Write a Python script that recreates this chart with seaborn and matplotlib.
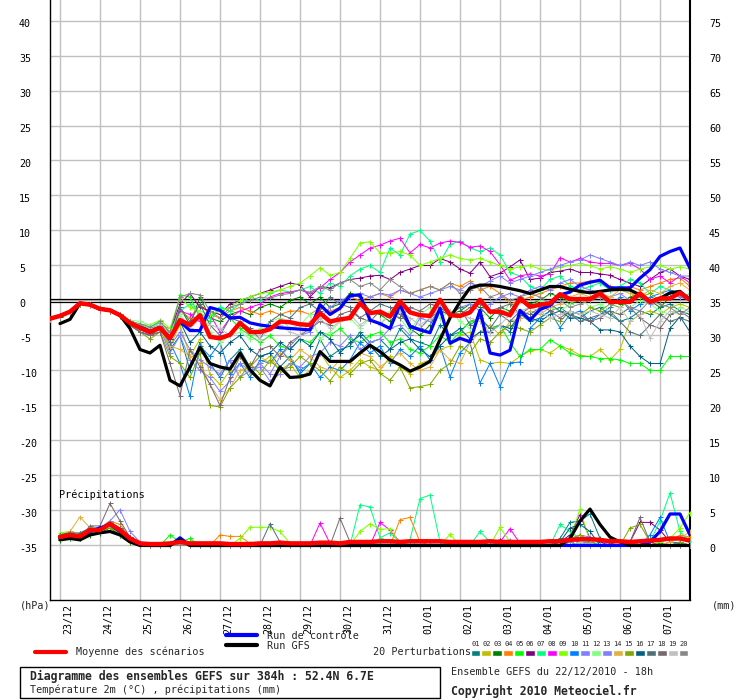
import numpy as np
import pandas as pd
import matplotlib
matplotlib.use("Agg")
import matplotlib.pyplot as plt
import seaborn as sns
from matplotlib.lines import Line2D
from matplotlib.patches import Rectangle
from matplotlib.transforms import blended_transform_factory, ScaledTranslation

# ---------------- data ----------------
hours_t = list(range(0, 385, 6))      # temperature steps (0..384h)
hours_p = list(range(6, 385, 6))      # precipitation steps (6..384h)
hours_gfs = list(range(6, 385, 6))    # GFS run starts at +6h
date_ticks_h = list(range(6, 367, 24))
date_labels = ["23/12", "24/12", "25/12", "26/12", "27/12", "28/12", "29/12", "30/12",
               "31/12", "01/01", "02/01", "03/01", "04/01", "05/01", "06/01", "07/01"]
members = ["%02d" % k for k in range(1, 21)]
pert_colors = ["#008080", "#c0c000", "#008000", "#ff8000", "#00ff00", "#800080", "#00ff80",
               "#ff00ff", "#80ff00", "#0080ff", "#8080ff", "#80ff80", "#8080ff", "#e0b040",
               "#80a800", "#006080", "#507078", "#786870", "#c0c0c0", "#888888"]

t_mean = [-2.6, -2.2, -1.6, -0.4, -0.6, -1.2, -1.4, -2.1,
          -3.2, -3.9, -4.5, -3.9, -5.4, -2.8, -3.5, -2.1,
          -5.2, -5.4, -4.9, -3.2, -4.5, -4.5, -4.1, -3.0,
          -3.1, -3.4, -3.5, -1.8, -3.0, -2.7, -2.5, -0.4,
          -1.8, -1.6, -2.3, -0.1, -1.7, -2.1, -2.2, 0.1,
          -2.1, -2.2, -1.7, 0.1, -1.6, -1.6, -2.1, 0.3,
          -0.9, -0.6, -0.4, 0.9, 0.2, 0.2, 0.2, 1.0,
          -0.2, -0.2, -0.2, 1.0, -0.2, 0.3, 0.3, 1.1,
          0.1]
t_control = [-2.6, -2.2, -1.6, -0.4, -0.6, -1.2, -1.4, -2.1,
             -3.2, -3.9, -4.5, -3.9, -5.4, -3.0, -4.3, -4.3,
             -1.0, -1.4, -2.5, -2.4, -3.2, -3.5, -3.7, -3.9,
             -4.0, -4.1, -4.2, -0.6, -2.0, -1.1, 0.7, 0.8,
             -2.8, -3.3, -4.0, -0.6, -3.7, -4.2, -4.6, -1.1,
             -6.1, -5.4, -5.9, -1.4, -7.5, -7.8, -7.1, -1.4,
             -2.8, -1.3, -0.7, 0.8, 1.2, 2.2, 2.6, 2.9,
             1.8, 1.8, 1.8, 3.2, 4.4, 6.3, 7.0, 7.5,
             4.6]
t_gfs = [-3.3, -2.7, -0.4, -0.6, -1.2, -1.4, -2.1, -4.0,
         -7.0, -7.5, -6.4, -11.4, -12.2, -9.5, -6.7, -9.0,
         -9.5, -9.8, -7.5, -9.9, -11.4, -12.2, -9.5, -11.0,
         -10.9, -10.5, -7.3, -8.7, -8.7, -8.7, -7.5, -6.4,
         -7.3, -8.5, -9.2, -10.1, -9.5, -8.7, -5.6, -2.5,
         -0.2, 1.8, 2.2, 2.2, 2.0, 1.7, 1.4, 1.0,
         1.5, 2.0, 2.0, 1.6, 1.3, 1.1, 1.3, 1.5,
         1.6, 1.5, 0.8, -0.2, 0.3, 1.1, 1.3, 0.1]

t_p01 = [-2.5, -2.1, -1.5, -0.3, -0.5, -1.1, -1.4, -2.0,
         -3.0, -3.6, -4.0, -3.5, -7.0, -5.0, -10.0, -6.0,
         -9.0, -11.0, -8.5, -7.0, -9.5, -8.0, -7.5, -9.5,
         -8.0, -10.5, -9.0, -5.5, -8.0, -7.0, -6.5, -4.5,
         -6.0, -5.5, -7.0, -4.0, -5.5, -6.0, -6.5, -3.5,
         -5.0, -4.5, -3.0, -2.5, -4.0, -3.5, -4.5, -2.0,
         -3.0, -2.5, -1.5, -1.0, -2.0, -2.5, -1.5, -1.0,
         -2.0, -3.0, -2.5, -1.5, -2.0, -1.0, -0.5, -1.5,
         -2.0]
t_p02 = [-2.6, -2.2, -1.6, -0.5, -0.6, -1.2, -1.5, -2.1,
         -3.2, -4.0, -4.8, -4.5, -6.5, -3.5, -8.0, -5.5,
         -10.5, -12.0, -10.0, -8.0, -10.5, -9.0, -8.0, -10.0,
         -9.0, -11.0, -10.0, -7.5, -9.5, -11.0, -10.0, -8.5,
         -9.5, -10.0, -8.0, -9.5, -10.5, -9.0, -8.5, -7.0,
         -6.5, -5.0, -4.5, -8.5, -9.0, -8.8, -9.0, -8.0,
         -7.2, -7.0, -7.5, -6.5, -7.0, -7.8, -8.0, -7.0,
         -8.5, -7.0, -3.0, -2.0, -1.5, -2.0, -1.0, -0.5,
         -1.0]
t_p03 = [-2.6, -2.3, -1.7, -0.5, -0.7, -1.3, -1.5, -2.2,
         -3.5, -4.5, -5.0, -4.0, -5.5, -1.0, -3.5, 0.5,
         -2.5, -3.0, -2.0, -1.5, -2.0, -1.0, -0.5, -1.0,
         0.0, 0.5, -0.5, 0.5, -1.0, -0.5, 1.0, 0.5,
         -1.5, -2.0, -3.0, -1.5, -4.0, -5.0, -3.5, -1.0,
         -2.0, -1.5, -0.5, -1.0, -2.5, -1.0, -1.5, 0.5,
         -0.5, 0.0, 1.0, 0.5, -0.5, 0.0, 0.5, 1.0,
         0.0, -0.5, 0.5, 1.0, 0.0, -1.0, 0.5, 1.0,
         0.0]
t_p04 = [-2.5, -2.1, -1.5, -0.4, -0.6, -1.1, -1.4, -2.0,
         -3.0, -3.8, -4.2, -3.5, -4.0, -1.5, -2.5, -0.5,
         -2.0, -2.5, -1.5, -1.0, -1.5, -2.0, -1.5, -2.0,
         -1.5, -1.5, -2.0, -1.0, -1.5, -1.0, 0.5, 0.0,
         0.5, 1.0, 0.5, 1.5, 1.0, 1.5, 2.0, 1.5,
         2.5, 2.0, 2.8, 1.5, 2.0, 1.0, -0.5, 0.0,
         0.5, 1.0, 1.5, 2.0, 2.5, 2.5, 2.8, 2.6,
         2.0, 1.5, 2.0, 1.5, 2.0, 2.5, 3.0, 3.2,
         2.0]
t_p05 = [-2.6, -2.2, -1.6, -0.4, -0.6, -1.2, -1.4, -2.1,
         -3.3, -3.6, -4.0, -3.5, -5.0, 0.8, 0.5, -2.5,
         -3.0, -1.0, -2.5, -4.0, -5.0, -6.0, -5.0, -6.5,
         -7.0, -5.5, -6.0, -4.5, -5.0, -4.0, -5.5, -6.0,
         -5.0, -4.5, -6.0, -5.5, -7.0, -7.5, -6.5, -5.0,
         -6.0, -4.5, -3.0, -2.5, -4.0, -3.5, -6.0, -8.0,
         -7.0, -7.0, -5.6, -6.5, -7.5, -8.0, -8.0, -8.3,
         -8.3, -8.5, -9.0, -9.0, -10.0, -10.0, -8.0, -8.0,
         -8.0]
t_p06 = [-2.5, -2.1, -1.5, -0.3, -0.5, -1.1, -1.3, -2.0,
         -3.0, -3.5, -4.2, -3.6, -4.5, -0.5, 1.0, -1.0,
         -1.5, -2.0, -0.5, 0.0, 0.5, 1.0, 1.5, 2.0,
         2.5, 2.2, 0.5, 2.0, 1.8, 2.5, 3.0, 3.2,
         3.5, 3.6, 3.0, 4.0, 4.5, 5.0, 5.0, 6.0,
         5.5, 4.5, 3.9, 5.5, 3.4, 3.9, 4.8, 5.8,
         3.0, 3.2, 4.0, 4.2, 4.5, 4.0, 4.0, 3.8,
         3.6, 3.0, 2.5, 2.0, 3.0, 4.0, 4.5, 3.5,
         3.0]
t_p07 = [-2.6, -2.2, -1.6, -0.4, -0.6, -1.2, -1.4, -2.1,
         -3.2, -3.5, -3.8, -3.2, -4.5, -1.5, -0.5, -2.0,
         -2.5, -1.0, -1.5, -0.5, 0.5, 0.0, 1.0, 1.5,
         1.2, 1.5, 2.0, 1.0, 2.5, 2.0, 3.5, 4.5,
         5.0, 4.0, 7.5, 6.5, 9.5, 10.0, 8.5, 5.5,
         8.0, 8.5, 7.5, 7.0, 7.5, 6.5, 4.0, 3.5,
         2.0, 1.5, 3.0, 3.5, 2.0, 1.5, 2.0, 2.5,
         1.5, 2.0, 3.0, 2.5, 1.0, 2.0, 1.5, 0.5,
         1.0]
t_p08 = [-2.6, -2.2, -1.6, -0.4, -0.6, -1.2, -1.4, -2.1,
         -3.3, -4.0, -5.0, -4.5, -5.5, -1.5, -2.0, -3.0,
         -2.0, -4.5, -2.5, -1.5, -1.0, -0.5, 0.5, 1.0,
         1.2, 1.5, 1.0, 1.8, 3.0, 4.0, 5.5, 6.5,
         7.5, 7.9, 8.5, 8.9, 6.8, 8.0, 7.5, 8.2,
         8.5, 8.3, 7.6, 7.8, 7.0, 5.1, 2.9, 3.5,
         3.8, 3.5, 3.8, 6.1, 5.5, 6.0, 5.5, 5.3,
         5.3, 5.0, 5.3, 4.5, 3.0, 3.5, 2.5, 3.5,
         2.5]
t_p09 = [-2.5, -2.1, -1.5, -0.3, -0.5, -1.1, -1.3, -2.0,
         -3.0, -3.4, -3.5, -2.8, -4.0, 0.5, -1.0, -1.5,
         -2.0, -1.5, -1.0, 0.0, 0.5, 1.0, 1.2, 1.5,
         2.0, 2.5, 3.5, 4.7, 3.6, 4.0, 6.0, 8.2,
         8.4, 6.8, 6.8, 7.0, 6.5, 5.0, 5.5, 6.0,
         6.5, 6.0, 5.8, 6.0, 5.5, 5.0, 4.5, 4.8,
         5.0, 4.5, 4.3, 4.8, 5.0, 5.3, 5.0, 4.5,
         4.8, 4.5, 4.0, 4.5, 4.8, 5.0, 4.5, 4.8,
         4.5]
t_p10 = [-2.6, -2.2, -1.6, -0.4, -0.6, -1.2, -1.4, -2.1,
         -3.4, -4.0, -4.5, -4.0, -6.0, -9.0, -13.7, -6.5,
         -8.0, -6.0, -10.5, -9.0, -11.0, -8.5, -9.0, -7.0,
         -8.5, -10.0, -9.0, -11.0, -9.5, -10.0, -8.5, -6.0,
         -7.5, -6.5, -9.0, -7.0, -8.0, -6.5, -8.5, -6.5,
         -10.9, -7.5, -6.0, -11.8, -9.0, -12.3, -8.9, -8.8,
         -4.0, -2.5, -1.5, -3.9, -2.0, -1.5, -3.0, -2.0,
         -1.0, 0.5, -1.5, -0.5, 0.5, 1.0, 1.5, 1.0,
         0.5]
t_p11 = [-2.6, -2.2, -1.6, -0.4, -0.6, -1.2, -1.4, -2.1,
         -3.2, -3.8, -4.5, -3.8, -6.5, -4.5, -7.0, -8.5,
         -9.5, -10.5, -8.5, -11.0, -10.0, -9.0, -10.5, -8.0,
         -6.5, -5.0, -4.5, -2.5, -1.0, 0.0, 0.5, 1.0,
         0.5, 1.0, 0.8, 1.5, 1.0, 0.5, 1.0, 1.5,
         2.0, 1.5, 2.5, 2.0, 2.8, 3.5, 2.5, 3.0,
         3.5, 4.0, 4.5, 5.0, 5.5, 5.8, 6.5, 6.0,
         5.5, 5.0, 5.5, 5.0, 5.5, 4.5, 4.0, 3.5,
         3.5]
t_p12 = [-2.6, -2.2, -1.6, -0.4, -0.6, -1.2, -1.4, -2.1,
         -2.8, -3.0, -3.5, -3.0, -5.0, -2.0, -4.0, -1.5,
         -4.5, -6.0, -5.0, -4.5, -5.5, -4.0, -3.0, -2.5,
         -4.0, -3.5, -2.0, -5.5, -4.5, -3.0, -2.5, -4.0,
         -2.5, -3.5, -1.5, -2.5, -4.5, -2.0, -1.0, -2.5,
         -1.5, -3.0, -4.0, -2.5, -1.5, -2.0, -0.5, -1.5,
         -1.0, 0.0, -1.0, -1.5, -0.5, 0.5, -1.0, -0.5,
         -1.5, -2.0, -1.0, 0.0, -0.5, -1.5, -2.0, -1.0,
         -1.5]
t_p13 = [-2.6, -2.2, -1.6, -0.4, -0.6, -1.2, -1.4, -2.1,
         -3.5, -4.2, -4.8, -4.0, -7.5, -5.0, -8.5, -10.0,
         -11.0, -13.0, -11.5, -9.0, -10.0, -9.5, -11.5, -10.5,
         -9.0, -9.5, -8.0, -7.5, -6.0, -6.5, -5.0, -7.0,
         -6.0, -5.5, -4.0, -3.5, -5.0, -2.5, -3.0, -1.5,
         -2.0, -1.0, -0.5, -1.5, -0.5, 0.5, 1.0, 0.5,
         1.5, 2.0, 1.5, 2.5, 3.0, 2.0, 1.5, 1.0,
         0.5, 1.0, 0.0, 0.5, -0.5, 0.0, 1.0, 0.5,
         0.0]
t_p14 = [-2.6, -2.2, -1.6, -0.4, -0.6, -1.2, -1.4, -2.1,
         -3.4, -4.0, -4.5, -4.2, -6.5, -7.0, -8.0, -9.0,
         -12.0, -14.2, -12.5, -10.0, -9.5, -8.0, -9.0, -7.5,
         -8.5, -7.0, -8.0, -9.5, -10.0, -8.5, -9.0, -7.5,
         -8.0, -9.5, -8.5, -7.5, -9.0, -10.0, -9.5, -7.0,
         -8.5, -9.0, -6.0, -4.5, -3.5, -5.0, -3.0, -2.5,
         -1.5, -2.0, -1.0, -0.5, 0.5, 1.0, 0.5, 1.0,
         0.5, 1.5, 1.0, 0.5, 1.5, 1.0, 2.0, 2.5,
         1.5]
t_p15 = [-2.6, -2.2, -1.6, -0.4, -0.6, -1.2, -1.4, -2.1,
         -3.6, -4.5, -5.5, -4.5, -8.0, -9.0, -11.0, -7.5,
         -15.0, -15.2, -12.5, -11.0, -9.0, -10.5, -8.5, -10.0,
         -9.5, -8.0, -9.0, -10.0, -11.5, -9.5, -10.5, -9.0,
         -8.5, -10.4, -11.4, -9.5, -12.5, -12.3, -12.0, -10.0,
         -9.0, -6.5, -7.5, -5.5, -6.0, -4.5, -3.5, -4.0,
         -4.5, -3.5, -2.5, -3.0, -1.5, -2.0, -1.0, -1.5,
         -0.5, -1.0, 0.0, 0.5, 1.0, 0.0, 0.5, 1.0,
         0.5]
t_p16 = [-2.6, -2.2, -1.6, -0.4, -0.6, -1.2, -1.4, -2.1,
         -3.0, -3.5, -4.5, -3.8, -5.5, -3.0, -6.0, -4.5,
         -6.5, -7.5, -6.0, -5.0, -7.0, -8.0, -7.5, -6.0,
         -7.0, -5.5, -6.5, -4.5, -5.5, -7.5, -6.0, -5.0,
         -6.5, -8.0, -7.0, -6.0, -5.5, -7.0, -8.0, -6.5,
         -5.0, -4.0, -5.5, -4.5, -4.5, -3.5, -4.0, -2.0,
         -2.5, -3.0, -2.0, -1.5, -2.5, -2.5, -3.0, -4.2,
         -4.2, -4.5, -6.5, -8.0, -9.0, -9.0, -4.0, -2.3,
         -4.5]
t_p17 = [-2.6, -2.2, -1.6, -0.4, -0.6, -1.2, -1.4, -2.1,
         -3.2, -3.8, -4.5, -4.0, -6.0, -1.0, -3.0, -0.5,
         -3.5, -5.0, -2.5, -3.0, -4.0, -5.5, -3.0, -2.0,
         -2.5, -1.0, -0.5, -1.5, 0.5, -0.5, -1.0, -2.5,
         -1.5, -0.5, -1.0, -2.0, -3.5, -4.0, -2.5, -1.5,
         -2.0, -1.0, -3.5, -2.5, -4.0, -2.0, -3.0, -1.5,
         -2.0, -1.0, -0.5, -1.5, -2.0, -3.0, -2.5, -2.0,
         -1.5, -3.0, -4.5, -5.0, -3.5, -2.0, -3.0, -2.5,
         -3.0]
t_p18 = [-2.6, -2.2, -1.6, -0.4, -0.6, -1.2, -1.4, -2.1,
         -3.5, -4.5, -5.0, -4.5, -9.0, -13.6, -7.0, -9.5,
         -12.0, -15.0, -11.0, -8.0, -9.5, -7.0, -6.5, -8.0,
         -6.0, -5.0, -4.0, -3.0, -3.5, -2.0, -1.5, -2.5,
         -3.0, -1.5, -2.0, -2.5, -1.0, -1.5, -0.5, -1.0,
         -1.5, -2.0, -1.0, -0.5, -1.5, -1.0, -0.5, -2.0,
         -1.0, -0.5, -1.5, -2.5, -1.5, -2.0, -3.0, -2.5,
         -1.5, -2.0, -1.0, -2.5, -3.5, -4.0, -2.0, -1.5,
         -2.5]
t_p19 = [-2.6, -2.2, -1.6, -0.4, -0.6, -1.2, -1.4, -2.1,
         -3.0, -3.4, -4.0, -3.5, -5.0, -2.5, -4.0, -2.5,
         -3.5, -4.0, -5.0, -3.0, -4.5, -5.5, -4.0, -3.5,
         -4.5, -5.0, -3.0, -2.5, -4.0, -3.0, -2.0, -3.5,
         -2.5, -3.5, -2.0, -1.5, -2.5, -3.5, -2.5, -1.0,
         -1.5, -2.0, -2.5, -3.0, -4.6, -3.5, -2.0, -1.5,
         -1.0, -1.5, -2.5, -2.0, -1.5, -2.0, -1.5, -2.0,
         -2.5, -1.0, -3.0, -2.0, -5.4, -3.0, -1.5, -2.0,
         -1.5]
t_p20 = [-2.5, -2.1, -1.5, -0.3, -0.5, -1.1, -1.3, -2.0,
         -3.0, -3.3, -3.8, -3.0, -4.5, 0.5, 1.0, 0.8,
         -1.5, -2.5, -1.0, -0.5, 0.0, 0.5, 0.3, 0.8,
         1.0, 1.5, 1.2, 2.0, 1.5, 2.5, 3.0, 2.0,
         2.5, 1.5, 3.0, 2.0, 1.0, 1.5, 2.0, 1.5,
         2.5, 1.0, 1.5, 2.0, 0.5, 1.0, 0.0, 0.5,
         1.0, 0.5, -0.5, 0.0, -1.0, -0.5, 0.0, 0.5,
         -0.5, 0.0, -1.0, -1.5, 0.0, -0.5, -1.0, -2.0,
         -1.0]

p_mean = [1.2, 1.5, 1.3, 2.2, 2.2, 3.1, 2.2, 1.0,
          0.3, 0.2, 0.2, 0.3, 0.5, 0.3, 0.3, 0.3,
          0.3, 0.2, 0.2, 0.2, 0.3, 0.3, 0.4, 0.3,
          0.3, 0.3, 0.4, 0.4, 0.3, 0.5, 0.5, 0.5,
          0.6, 0.6, 0.5, 0.6, 0.6, 0.6, 0.6, 0.5,
          0.5, 0.5, 0.5, 0.6, 0.5, 0.5, 0.5, 0.5,
          0.5, 0.6, 0.6, 0.8, 0.9, 0.9, 0.8, 0.6,
          0.6, 0.5, 0.6, 0.7, 0.8, 1.0, 1.0, 0.7]
p_control = [1.0, 1.5, 1.2, 2.0, 2.5, 3.0, 2.0, 0.8,
             0.2, 0, 0, 0, 1.1, 0, 0, 0,
             0, 0, 0, 0, 0, 0, 0, 0,
             0, 0, 0, 0, 0, 0, 0, 0,
             0, 0, 0, 0, 0, 0, 0, 0,
             0, 0, 0, 0, 0, 0, 0, 0,
             0, 0, 0, 0, 0, 0, 0, 0,
             0, 0, 0, 0.5, 2.0, 4.5, 4.5, 1.5]
p_gfs = [0.8, 1.0, 0.8, 1.5, 1.8, 2.0, 1.5, 0.5,
         0, 0, 0, 0, 0.8, 0, 0, 0,
         0, 0, 0, 0, 0, 0, 0, 0,
         0, 0, 0, 0, 0, 0, 0, 0,
         0, 0, 0, 0, 0, 0, 0, 0,
         0, 0, 0, 0, 0, 0, 0, 0,
         0, 0, 0, 1.0, 3.5, 5.2, 3.0, 1.2,
         0.5, 0, 0, 0, 0, 0, 0, 0]

p_p01 = [1.5, 1.0, 1.8, 2.5, 2.0, 3.0, 2.0, 0.8,
         0.2, 0, 0, 0, 0.3, 0, 0, 0,
         0, 0, 0, 0, 0, 0, 0, 0,
         0, 0, 0, 0, 0, 0, 0.2, 0,
         0, 0, 0, 0, 0, 0, 0, 0,
         0, 0, 0, 0, 0, 0, 0.3, 0,
         0, 0, 1.0, 3.3, 3.5, 4.5, 1.0, 0.3,
         0, 0, 0.5, 0, 0.3, 0, 0.5, 0]
p_p02 = [1.0, 1.2, 1.0, 2.0, 2.5, 2.8, 1.8, 0.6,
         0, 0, 0, 0, 0, 0, 0, 0,
         0, 0, 0, 0, 0, 0, 0, 0,
         0, 0, 0, 0, 0, 0, 0, 0,
         0, 0, 0, 0, 0, 0, 0, 0,
         0, 0, 0, 0, 0, 0, 0, 0,
         0, 0, 0, 0, 0, 0.5, 0, 0,
         0, 0, 0, 0, 0, 0.5, 1.0, 0.5]
p_p03 = [0.8, 1.5, 1.0, 1.5, 1.8, 2.5, 1.5, 0.5,
         0, 0, 0, 0, 0.5, 0, 0, 0,
         0, 0, 0, 0, 0, 0, 0, 0,
         0, 0, 0, 0, 0, 0, 0, 0,
         0, 0, 0, 0, 0, 0, 0, 0,
         0, 0, 0, 0, 0, 0, 0, 0,
         0, 0, 0, 0.5, 0, 0, 0, 0,
         0, 0, 0, 0, 0, 0, 0, 0]
p_p04 = [1.5, 2.0, 1.5, 2.5, 2.5, 3.5, 3.0, 1.2,
         0.3, 0, 0, 0, 0, 0, 0, 0,
         1.5, 1.3, 1.3, 0.3, 0, 0, 0, 0,
         0, 0, 0, 0, 0, 0, 0, 0,
         0, 0, 3.7, 4.0, 0.5, 0, 0, 0,
         0, 0, 0, 0, 0, 0, 0, 0,
         0, 0, 0, 0, 0.5, 0.3, 0, 0,
         0, 0, 0, 0, 0, 0.5, 1.5, 1.2]
p_p05 = [1.2, 1.0, 1.5, 2.0, 2.5, 2.8, 1.5, 0.8,
         0, 0, 0, 1.5, 0.5, 1.0, 0, 0,
         0, 0, 0, 0, 0, 0, 0, 0,
         0, 0, 0, 0, 0, 0, 0, 0,
         0, 0, 0, 0, 0, 0, 0, 0,
         0, 0, 0, 0, 0, 0, 0, 0,
         0, 0, 0, 0, 0, 0, 0, 0,
         0, 0, 0, 0, 0, 0, 0, 0]
p_p06 = [1.0, 1.5, 1.2, 2.0, 2.0, 3.0, 2.5, 1.0,
         0, 0, 0, 0, 0, 0, 0, 0,
         0, 0, 0, 0, 0, 0, 0, 0,
         0, 0, 0, 0, 0, 0, 0, 0,
         0, 0, 0, 0, 0, 0, 0, 0,
         0, 0, 0, 0.5, 0.8, 0.5, 0, 0,
         0, 0, 0.5, 1.5, 4.4, 1.0, 0.5, 0,
         0, 0.5, 3.3, 3.3, 2.2, 0.5, 0.3, 0]
p_p07 = [1.3, 1.8, 1.2, 2.5, 2.0, 3.2, 2.0, 1.0,
         0, 0, 0, 0, 0, 0, 0, 0,
         0, 0, 0, 0, 0, 0, 0, 0,
         0, 0, 0, 0, 0, 0, 5.8, 5.5,
         1.1, 1.8, 0.5, 0.8, 6.7, 7.2, 0.5, 0,
         0, 0, 2.0, 0.5, 0, 0, 0, 0,
         0, 0, 3.0, 2.0, 1.0, 0.5, 0, 0,
         0, 0, 0.5, 0.5, 3.5, 7.5, 2.0, 0.5]
p_p08 = [1.0, 1.2, 1.5, 2.0, 2.5, 3.0, 2.2, 1.0,
         0, 0, 0, 0, 0, 0, 0, 0,
         0, 0, 0, 0, 0, 0, 0, 0,
         0, 0, 3.2, 0.3, 0, 0, 0, 0,
         3.3, 2.2, 0.5, 0, 0, 0, 0, 0,
         0, 0, 0, 0, 0.5, 2.4, 0.3, 0,
         0, 0, 0, 0.8, 0.5, 0, 0, 0,
         0, 0, 0, 0, 0, 0, 0, 0]
p_p09 = [1.8, 2.0, 1.5, 2.5, 2.5, 3.2, 2.5, 1.2,
         0.3, 0, 0, 0, 0, 0, 0, 0,
         0, 0, 1.0, 2.6, 2.6, 2.6, 2.0, 0.3,
         0, 0, 0, 0, 0, 0, 2.0, 3.1,
         2.3, 2.4, 0.3, 0, 0, 0, 0, 1.6,
         0, 0, 0, 0, 2.6, 0.5, 0, 0,
         0, 0, 0.5, 1.0, 5.2, 0.5, 0, 0,
         0, 0, 0, 0, 0.5, 1.0, 2.5, 4.7]
p_p10 = [1.0, 1.3, 1.0, 1.8, 2.0, 2.8, 2.0, 1.0,
         0, 0, 0, 0, 0.5, 0, 0, 0,
         0, 0, 0, 0, 0, 0, 0, 0,
         0, 0, 0, 0, 0, 0, 0, 0,
         0, 0, 0, 0, 0, 0, 0, 0,
         0, 0, 0, 0, 0, 0, 0, 0,
         0, 0, 0, 0, 0.5, 0.5, 0, 0,
         0, 0, 0, 1.5, 4.0, 0.5, 0.3, 0]
p_p11 = [1.2, 1.5, 1.3, 2.5, 2.5, 3.5, 5.1, 2.0,
         0.5, 0, 0, 0, 0, 0, 0, 0,
         0, 0, 0, 0, 0, 0, 0, 0,
         0, 0, 0, 0, 0, 0, 0, 0,
         0, 0, 0, 0, 0, 0, 0, 0,
         0, 0, 0, 0, 0, 0, 0, 0,
         0, 0, 0, 0.5, 1.5, 0.8, 0, 0,
         0, 0, 0, 0, 0, 0, 0, 0]
p_p12 = [1.0, 1.5, 1.2, 2.0, 2.0, 2.8, 2.0, 0.8,
         0, 0, 0, 0, 0.3, 0, 0, 0,
         0, 0, 0, 0, 0, 0, 0, 0,
         0, 0, 0, 0, 0, 0, 0, 0,
         0, 0, 0, 0.5, 0, 0, 0, 0,
         0, 0, 0, 0, 0, 0, 0, 0,
         0, 0, 0, 0, 0.5, 1.0, 0, 0,
         0, 0, 0, 0, 0, 0, 0, 0]
p_p13 = [1.3, 1.5, 1.5, 2.2, 2.0, 3.0, 2.5, 1.0,
         0, 0, 0, 0, 0, 0, 0, 0,
         0, 0, 0, 0, 0, 0, 0, 0,
         0, 0, 0, 0, 0, 0, 0, 0,
         0, 0, 0, 0, 0, 0, 0, 0,
         0, 0, 0, 0, 0.5, 0.8, 0.5, 0,
         0, 0, 0, 0.8, 1.5, 1.2, 0.8, 0,
         0, 0, 0, 0, 0, 0, 0, 0]
p_p14 = [1.5, 2.0, 4.1, 2.5, 2.0, 2.8, 2.0, 0.8,
         0, 0, 0, 0, 0, 0, 0, 0,
         0, 0, 0, 0, 0, 0, 0, 0,
         0, 0, 0, 0, 0, 0, 0, 0,
         0, 0, 0, 0, 0, 0, 0, 0,
         0, 0, 0, 0, 0, 0, 0, 0,
         0, 0, 0, 0, 0, 0, 0, 0,
         0, 0, 0, 0, 0, 0.5, 1.0, 2.0]
p_p15 = [1.0, 1.3, 1.0, 1.8, 2.2, 2.5, 1.8, 0.6,
         0, 0, 0, 0, 0, 0, 0, 0,
         0, 0, 0, 0, 0, 0, 0, 0,
         0, 0, 0, 0, 0, 0, 0, 0,
         0, 0, 0, 0, 0, 0, 0, 0,
         0, 0, 0, 0, 0, 0, 0, 0,
         0, 0, 0, 1.0, 1.5, 0.5, 0, 0,
         0, 2.5, 3.0, 0.5, 0, 0, 0.5, 0]
p_p16 = [1.5, 1.8, 1.3, 2.5, 2.3, 3.0, 2.3, 1.0,
         0, 0, 0, 0, 0, 0, 0, 0,
         0, 0, 0, 0, 0, 0, 0, 0,
         0, 0, 0, 0, 0, 0, 0, 0,
         0, 0, 0, 0, 0, 0, 0, 0,
         0, 0, 0, 0, 0, 0, 0, 0,
         0, 0, 0.5, 2.5, 3.0, 2.0, 0, 0,
         0, 0, 0, 0, 0, 0, 0, 0]
p_p17 = [1.5, 1.8, 1.8, 2.2, 2.5, 3.2, 2.5, 1.2,
         0, 0, 0, 0, 0, 0, 0, 0,
         0, 0, 0, 0, 0, 3.1, 0.5, 0,
         0, 0, 0, 0, 0, 0, 0, 0,
         0, 0, 0, 0, 0, 0, 0, 0,
         0, 0, 0, 0, 0, 0, 0, 0,
         0, 0, 0, 0, 0, 0, 0, 0,
         0, 0, 0, 0, 0, 0, 0, 0]
p_p18 = [1.5, 1.5, 1.2, 2.8, 2.8, 6.0, 3.5, 1.2,
         0, 0, 0, 0, 0, 0, 0, 0,
         0, 0, 0, 0, 0, 0, 0, 0,
         0, 0, 0, 0, 3.9, 0.5, 0, 0,
         0, 0, 0, 0, 0, 0, 0, 0,
         0, 0, 0, 0, 0, 0, 0, 0,
         0, 0, 0, 0, 0, 0, 0, 0,
         0, 0.5, 4.0, 0.5, 0, 0, 0, 0]
p_p19 = [1.2, 1.5, 1.3, 2.0, 2.2, 3.0, 2.0, 0.8,
         0, 0, 0, 0, 0, 0, 0, 0,
         0, 0, 0, 0, 0, 0, 0, 0,
         0, 0, 0, 0, 0, 0, 0, 0,
         0, 0, 0, 0, 0, 0, 0, 0,
         0, 0, 0, 0, 0, 0, 0, 0,
         0, 0, 0, 0, 0.3, 0.3, 0, 0,
         0, 0, 0, 0, 0, 0, 0, 0]
p_p20 = [1.3, 1.6, 1.4, 2.3, 2.4, 3.3, 2.4, 1.0,
         0, 0, 0, 0, 0, 0, 0, 0,
         0, 0, 0, 0, 0, 0, 0, 0,
         0, 0, 0, 0, 0, 0, 0, 0,
         0, 0, 0, 0, 0, 0, 0, 0,
         0, 0, 0, 0, 0, 0, 0, 0,
         0, 0, 0, 0, 0, 0, 0, 0,
         0, 0, 0, 0, 0, 0, 0, 0]

pert_temps = [t_p01, t_p02, t_p03, t_p04, t_p05, t_p06, t_p07, t_p08, t_p09, t_p10,
              t_p11, t_p12, t_p13, t_p14, t_p15, t_p16, t_p17, t_p18, t_p19, t_p20]
pert_precs = [p_p01, p_p02, p_p03, p_p04, p_p05, p_p06, p_p07, p_p08, p_p09, p_p10,
              p_p11, p_p12, p_p13, p_p14, p_p15, p_p16, p_p17, p_p18, p_p19, p_p20]

for k, v in enumerate(pert_temps):
    assert len(v) == len(hours_t), ("temp", k + 1, len(v))
for k, v in enumerate(pert_precs):
    assert len(v) == len(hours_p), ("prec", k + 1, len(v))
assert len(t_mean) == 65 and len(t_control) == 65 and len(t_gfs) == 64
assert len(p_mean) == 64 and len(p_control) == 64 and len(p_gfs) == 64

# ---------------- figure ----------------
sns.set_theme(style="white")
plt.rcParams["font.family"] = ["DejaVu Sans Mono", "DejaVu Sans"]

W, H = 740, 700
fig = plt.figure(figsize=(W / 100, H / 100), dpi=100)
fig.patch.set_facecolor("white")
ax = fig.add_axes([50 / W, 100 / H, 640 / W, 600 / H])
ax2 = ax.twinx()

Y_LO, Y_HI = -42.79, 42.93
PREC_OFFSET = 35
ax.set_xlim(0, 384)
ax.set_ylim(Y_LO, Y_HI)
ax2.set_ylim(Y_LO + PREC_OFFSET, Y_HI + PREC_OFFSET)

GRID = "#c0c0c0"
PX = 0.72


def draw(axis, hours, vals, color, lw, marker=False, z=2):
    df = pd.DataFrame({"hour": hours, "value": vals})
    kw = {}
    if marker:
        kw = dict(marker="+", markersize=3.6, markeredgewidth=PX,
                  markeredgecolor=color)
    sns.lineplot(data=df, x="hour", y="value", color=color, linewidth=lw,
                 estimator=None, sort=False, ax=axis, zorder=z, **kw)


# temperature
for vals, c in zip(pert_temps, pert_colors):
    draw(ax, hours_t, vals, c, PX, marker=True, z=3)
draw(ax, hours_t, t_control, "#0000ff", 2.3, z=4)
draw(ax, hours_gfs, t_gfs, "#000000", 2.3, z=5)
draw(ax, hours_t, t_mean, "#ff0000", 3.2, z=6)

# precipitation (right axis, mm)
for vals, c in zip(pert_precs, pert_colors):
    draw(ax2, hours_p, vals, c, PX, marker=True, z=3)
draw(ax2, hours_p, p_control, "#0000ff", 2.3, z=4)
draw(ax2, hours_p, p_gfs, "#000000", 2.3, z=5)
draw(ax2, hours_p, p_mean, "#ff0000", 3.2, z=6)

# axes styling
ax.set_axisbelow(True)
ax.set_xticks(date_ticks_h)
ax.set_xticklabels([])
ax.set_yticks(list(range(-35, 41, 5)))
ax.set_yticklabels([str(v) for v in range(-35, 41, 5)])
ax.tick_params(axis="x", length=0)
ax.tick_params(axis="y", length=0, pad=22.3, labelsize=7.2, labelcolor="black")
label_shift = ScaledTranslation(0, -2.5 / 100, fig.dpi_scale_trans)
for lab in ax.get_yticklabels():
    lab.set_horizontalalignment("left")
    lab.set_transform(lab.get_transform() + label_shift)
ax.grid(True, color=GRID, linewidth=1.0)
ax.set_xlabel("")
ax.set_ylabel("")
ax.axhline(0.2, color="black", lw=0.9, zorder=2.5)
ax.axhline(-0.25, color="black", lw=0.9, zorder=2.5)

ax2.set_yticks(list(range(0, 76, 5)))
ax2.set_yticklabels([str(v) for v in range(0, 76, 5)])
ax2.tick_params(axis="y", length=0, pad=13.7, labelsize=7.2, labelcolor="black")
for lab in ax2.get_yticklabels():
    lab.set_transform(lab.get_transform() + label_shift)
ax2.grid(False)
ax2.set_xlabel("")
ax2.set_ylabel("")

for a in (ax, ax2):
    for s in a.spines.values():
        s.set_visible(False)
ax.spines["left"].set_visible(True)
ax.spines["left"].set_color("black")
ax.spines["left"].set_linewidth(1.0)
ax.spines["bottom"].set_visible(True)
ax.spines["bottom"].set_color("black")
ax.spines["bottom"].set_linewidth(1.0)
ax2.spines["right"].set_visible(True)
ax2.spines["right"].set_color("black")
ax2.spines["right"].set_linewidth(1.5)

# date labels under the axis
trans = blended_transform_factory(ax.transData, ax.transAxes)
for h, lbl in zip(date_ticks_h, date_labels):
    ax.text(h + 4.8, -0.006, lbl, transform=trans, rotation=90, ha="center",
            va="top", fontsize=7.2, color="black")

ax.text(5.4, -27.8, "Précipitations", fontsize=7.3, va="center", ha="left", color="black")

fig.text(20 / W, 1 - 606 / H, "(hPa)", fontsize=7.3, va="center")
fig.text(712 / W, 1 - 606 / H, "(mm)", fontsize=7.3, va="center")

# legends
common = dict(frameon=False, fontsize=7.3, borderpad=0, borderaxespad=0,
              handletextpad=0.9, handlelength=3.1, loc="center left")
fig.legend(handles=[Line2D([0], [0], color="#ff0000", lw=3.0)],
           labels=["Moyenne des scénarios"], bbox_to_anchor=(35 / W, 1 - 652 / H), **common)
fig.legend(handles=[Line2D([0], [0], color="#0000ff", lw=3.0)],
           labels=["Run de contrôle"], bbox_to_anchor=(226 / W, 1 - 636 / H), **common)
fig.legend(handles=[Line2D([0], [0], color="#000000", lw=3.0)],
           labels=["Run GFS"], bbox_to_anchor=(226 / W, 1 - 646 / H), **common)

fig.text(373 / W, 1 - 652 / H, "20 Perturbations", fontsize=7.3, va="center")

# perturbation colour swatches
axsw = fig.add_axes([470 / W, 1 - 656 / H, 219 / W, 6 / H])
axsw.bar(np.arange(len(members)), np.ones(len(members)), width=0.9, color=pert_colors)
axsw.set_xlim(-0.5, len(members) - 0.5)
axsw.set_ylim(0, 1)
axsw.xaxis.tick_top()
axsw.set_xticks(np.arange(len(members)))
axsw.set_xticklabels(members)
axsw.tick_params(axis="x", length=0, pad=1.8, labelsize=5.0)
axsw.set_yticks([])
for s in axsw.spines.values():
    s.set_visible(False)
axsw.patch.set_alpha(0)

# footer
fig.add_artist(Rectangle((20 / W, 1 - 698 / H), 420 / W, 31 / H, transform=fig.transFigure,
                         fill=False, edgecolor="black", linewidth=1.0))
fig.text(30 / W, 1 - 676 / H, "Diagramme des ensembles GEFS sur 384h : 52.4N 6.7E",
         fontsize=8.3, fontweight="bold", va="center")
fig.text(30 / W, 1 - 690 / H, "Température 2m (°C) , précipitations (mm)",
         fontsize=7.3, va="center")
fig.text(451 / W, 1 - 672 / H, "Ensemble GEFS du 22/12/2010 - 18h", fontsize=7.3, va="center")
fig.text(451 / W, 1 - 691 / H, "Copyright 2010 Meteociel.fr", fontsize=8.3,
         fontweight="bold", va="center")

fig.savefig("out.png", dpi=100, facecolor="white")
